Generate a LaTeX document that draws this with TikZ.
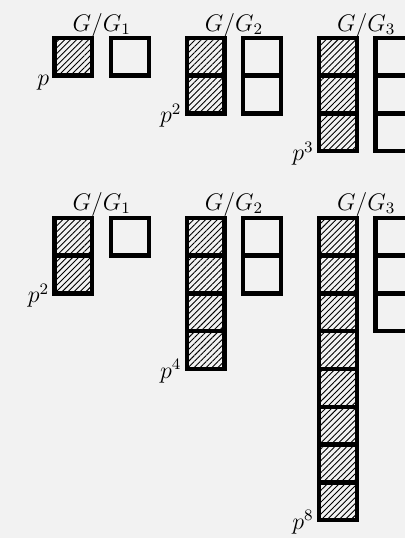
\documentclass[tikz,border=0pt]{standalone}
\usepackage{amsmath,amssymb}
\usepackage{xcolor}
\usepackage{tikz}
\usetikzlibrary{patterns.meta}
\usetikzlibrary{positioning}

\definecolor{paper}{HTML}{F2F2F2}

\begin{document}
\begin{tikzpicture}[
  x=0.5pt, y=-0.5pt,
  every node/.style={font=\large, inner sep=0pt},
  cell/.style={draw, line width=2.2pt},
  hatched/.style={cell, pattern={Lines[angle=45, distance=2.1pt, line width=0.45pt]}},
]
  % Page
  \useasboundingbox (0,0) rectangle (405,538);
  \fill[paper] (0,0) rectangle (405,538);
  \clip (0,0) rectangle (405,538);

  % Top row: p, p^2, p^3
  \foreach \gx/\nh/\nw/\k/\pe in {54.5/1/1/1/{}, 186.8/2/2/2/^2, 319.1/3/3/3/^3} {
    \foreach \r in {1,...,\nh}
      \draw[hatched] (\gx, 37.8+\r*37.8-37.8) rectangle ++(37.8, 37.8);
    \foreach \r in {1,...,\nw}
      \draw[cell] (\gx+56.5, 37.8+\r*37.8-37.8) rectangle ++(37.8, 37.8);
    \node[anchor=base] (qa\k) at (\gx+47.2, 31) {$G/G_{\k}$};
    \node[anchor=base east] (pa\k) at (\gx-5, 37.8+\nh*37.8+9.5) {$p\pe$};
  }

  % Bottom row: p^2, p^4, p^8
  \foreach \gx/\nh/\nw/\k/\pe in {54.5/2/1/1/^2, 186.8/4/2/2/^4, 319.1/8/3/3/^8} {
    \foreach \r in {1,...,\nh}
      \draw[hatched] (\gx, 217.7+\r*37.8-37.8) rectangle ++(37.8, 37.8);
    \foreach \r in {1,...,\nw}
      \draw[cell] (\gx+56.5, 217.7+\r*37.8-37.8) rectangle ++(37.8, 37.8);
    \node[anchor=base] (qb\k) at (\gx+47.2, 210) {$G/G_{\k}$};
    \node[anchor=base east] (pb\k) at (\gx-5, 217.7+\nh*37.8+9.5) {$p\pe$};
  }

\end{tikzpicture}
\end{document}
